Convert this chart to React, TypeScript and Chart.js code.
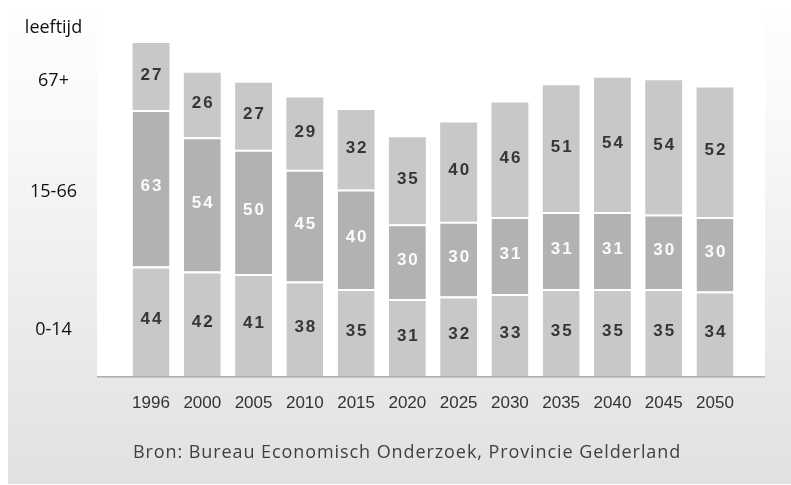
import React, { useEffect, useRef } from "react";
import { Chart, registerables } from "chart.js";

Chart.register(...registerables);

const years = ["1996", "2000", "2005", "2010", "2015", "2020", "2025", "2030", "2035", "2040", "2045", "2050"];
const age0to14 = [44, 42, 41, 38, 35, 31, 32, 33, 35, 35, 35, 34];
const age15to66 = [63, 54, 50, 45, 40, 30, 30, 31, 31, 31, 30, 30];
const age67plus = [27, 26, 27, 29, 32, 35, 40, 46, 51, 54, 54, 52];

const yLabelValues = [18.5, 74, 118.7, 140];
const yLabels = ["0-14", "15-66", "67+", "leeftijd"];
const sourceText = "Bron: Bureau Economisch Onderzoek, Provincie Gelderland";

const LIGHT = "#c8c8c8";
const MID = "#b2b2b2";

const backgroundPlugin = {
  id: "bgPanel",
  beforeDraw(chart: any) {
    const { ctx, width, chartArea } = chart;
    ctx.save();
    const g = ctx.createLinearGradient(0, 9, 0, 484);
    g.addColorStop(0, "#fefefe");
    g.addColorStop(0.2, "#fafafa");
    g.addColorStop(0.77, "#e8e8e8");
    g.addColorStop(1, "#e1e1e1");
    ctx.fillStyle = g;
    ctx.fillRect(8, 9, width - 8, 475);
    const left = chartArea.left - 28.4;
    const right = chartArea.right + 24.4;
    ctx.fillStyle = "#ffffff";
    ctx.fillRect(left, 9, right - left, chartArea.bottom - 9);
    ctx.fillStyle = "#b0b0b0";
    ctx.fillRect(left, chartArea.bottom, right - left, 1.6);
    ctx.restore();
  },
};

const valueLabelPlugin = {
  id: "valueLabels",
  afterDatasetsDraw(chart: any) {
    const { ctx } = chart;
    ctx.save();
    ctx.font = 'bold 17px "Liberation Sans", Arial, sans-serif';
    ctx.textAlign = "center";
    ctx.textBaseline = "middle";
    try {
      (ctx as any).letterSpacing = "2px";
    } catch (e) {}
    chart.data.datasets.forEach((ds: any, di: number) => {
      const meta = chart.getDatasetMeta(di);
      ctx.fillStyle = di === 1 ? "#fbfbfb" : "#363636";
      meta.data.forEach((el: any, i: number) => {
        const v = ds.data[i];
        const y = (el.y + el.base) / 2 - 1.5;
        ctx.fillText(String(v), el.x + 1, y);
      });
    });
    ctx.restore();
  },
};

const textPlugin = {
  id: "sideTexts",
  afterDraw(chart: any) {
    const { ctx } = chart;
    const yScale = chart.scales.y;
    ctx.save();
    ctx.font = '18px "Open Sans", sans-serif';
    ctx.fillStyle = "#111111";
    ctx.textAlign = "center";
    ctx.textBaseline = "middle";
    yLabelValues.forEach((v, i) => {
      ctx.fillText(yLabels[i], 53.5, yScale.getPixelForValue(v));
    });
    ctx.font = '18px "Open Sans", sans-serif';
    ctx.fillStyle = "#404040";
    ctx.textAlign = "left";
    const plain = ctx.measureText(sourceText).width;
    const spacing = (547 - plain) / (sourceText.length - 1);
    try {
      (ctx as any).letterSpacing = spacing.toFixed(2) + "px";
    } catch (e) {}
    ctx.fillText(sourceText, 133, 453);
    ctx.restore();
  },
};

export default function App() {
  const canvasRef = useRef<HTMLCanvasElement | null>(null);

  useEffect(() => {
    const canvas = canvasRef.current;
    if (!canvas) return;
    const chart = new Chart(canvas, {
      type: "bar",
      data: {
        labels: years,
        datasets: [
          {
            label: "0-14",
            data: age0to14,
            backgroundColor: LIGHT,
            borderColor: "#ffffff",
            borderWidth: { top: 2, right: 0, bottom: 0, left: 0 },
            borderSkipped: false,
          },
          {
            label: "15-66",
            data: age15to66,
            backgroundColor: MID,
            borderColor: "#ffffff",
            borderWidth: { top: 2, right: 0, bottom: 0, left: 0 },
            borderSkipped: false,
          },
          {
            label: "67+",
            data: age67plus,
            backgroundColor: LIGHT,
            borderWidth: 0,
          },
        ],
      },
      options: {
        responsive: false,
        animation: false,
        layout: { padding: { left: 125.4, right: 50.4, top: 3.1, bottom: 55 } },
        plugins: {
          legend: { display: false },
          tooltip: { enabled: false },
          title: { display: false },
        },
        datasets: {
          bar: { categoryPercentage: 1, barPercentage: 0.72 },
        },
        scales: {
          x: {
            stacked: true,
            grid: { display: false, drawTicks: false },
            border: { display: false },
            ticks: {
              color: "#333333",
              padding: 16.8,
              maxRotation: 0,
              autoSkip: false,
              font: { family: '"Liberation Sans", Arial, sans-serif', size: 17 },
            },
          },
          y: {
            stacked: true,
            display: false,
            min: 0,
            max: 150,
          },
        },
      },
      plugins: [backgroundPlugin, valueLabelPlugin, textPlugin],
    });
    return () => chart.destroy();
  }, []);

  return (
    <div style={{ position: "fixed", left: 0, top: 0, width: 791, height: 485, background: "#ffffff" }}>
      <canvas ref={canvasRef} width={791} height={485} style={{ display: "block", width: 791, height: 485 }} />
    </div>
  );
}
